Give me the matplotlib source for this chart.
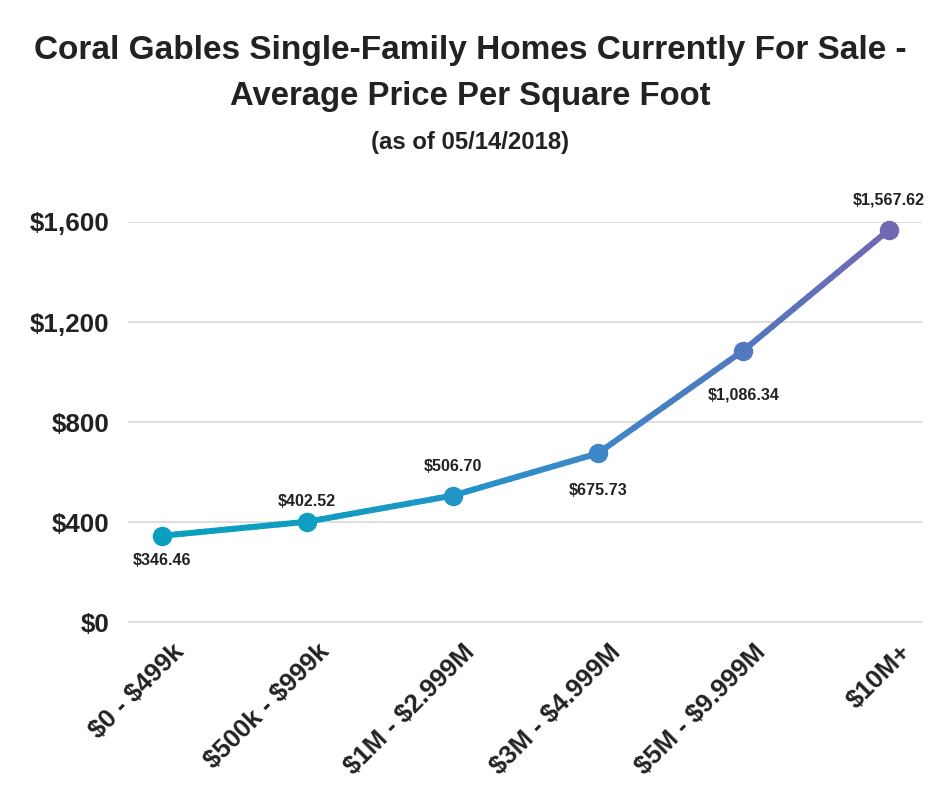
import matplotlib
matplotlib.use("Agg")
import matplotlib.pyplot as plt
import numpy as np
from matplotlib.collections import LineCollection
from matplotlib.colors import LinearSegmentedColormap
import matplotlib.transforms as mtrans

categories = ["$0 - $499k", "$500k - $999k", "$1M - $2.999M", "$3M - $4.999M", "$5M - $9.999M", "$10M+"]
values = [346.46, 402.52, 506.70, 675.73, 1086.34, 1567.62]
value_labels = ["$346.46", "$402.52", "$506.70", "$675.73", "$1,086.34", "$1,567.62"]
yticks = [0, 400, 800, 1200, 1600]
ytick_labels = ["$0", "$400", "$800", "$1,200", "$1,600"]

# label vertical offsets in pixels (positive = above)
label_dy = [-25, 20, 29, -37, -44, 30]

plt.rcParams['font.family'] = ['Liberation Sans', 'DejaVu Sans']
plt.rcParams['text.parse_math'] = False

fig = plt.figure(figsize=(9.4, 7.88), dpi=100)
ax = fig.add_axes([0.136, 0.2094, 0.845, 0.5089])

cmap = LinearSegmentedColormap.from_list(
    "g", [(0.0, "#0a9fbe"), (0.2, "#0f9dc0"), (0.4, "#1f95c8"), (0.6, "#3d86c7"), (0.8, "#5278c0"), (1.0, "#7068b3")])
x = np.arange(len(values))
n = len(values) - 1
pts = np.array([x, values]).T
segs = []
cols = []
sub = 20
for i in range(n):
    for k in range(sub):
        t0 = k / sub
        t1 = (k + 1) / sub
        p0 = pts[i] + (pts[i + 1] - pts[i]) * t0
        p1 = pts[i] + (pts[i + 1] - pts[i]) * t1
        segs.append([p0, p1])
        cols.append(cmap((i + (t0 + t1) / 2) / n))
lc = LineCollection(segs, colors=cols, linewidths=4.3, capstyle='round', clip_on=False, zorder=3)
ax.add_collection(lc)
for i, v in enumerate(values):
    ax.plot(x[i], v, 'o', ms=14, color=cmap(i / n), clip_on=False, zorder=4, mec='none')
    ax.annotate(value_labels[i], (x[i], v), xytext=(0, label_dy[i] * 0.72), textcoords='offset points',
                ha='center', va='center', fontsize=11.6, fontweight='bold', color='#222222')

ax.set_xlim(-0.233, 5.23)
ax.set_ylim(-2, 1600)
ax.set_yticks(yticks)
ax.set_yticklabels(ytick_labels, fontsize=18.7, fontweight='bold', color='#222222')
ax.set_xticks(x)
ax.set_xticklabels(categories, fontsize=18.5, fontweight='bold', color='#222222',
                   rotation=45, ha='right', rotation_mode='anchor')
ax.tick_params(axis='both', length=0)
ax.tick_params(axis='y', pad=13)
ax.tick_params(axis='x', pad=12)
for lab in ax.get_xticklabels():
    lab.set_transform(lab.get_transform() + mtrans.ScaledTranslation(10/100, 0, fig.dpi_scale_trans))
ax.grid(axis='y', color='#d4d4d4', lw=1.1)
ax.set_axisbelow(True)
for s in ax.spines.values():
    s.set_visible(False)

fig.text(0.5, 1 - 50/788, "Coral Gables Single-Family Homes Currently For Sale -", ha='center', va='center',
         fontsize=24, fontweight='bold', color='#222222')
fig.text(0.5, 1 - 97/788, "Average Price Per Square Foot", ha='center', va='center',
         fontsize=23.7, fontweight='bold', color='#222222')
fig.text(0.5, 1 - 143/788, "(as of 05/14/2018)", ha='center', va='center',
         fontsize=17.2, fontweight='bold', color='#222222')

fig.savefig("out.png", dpi=100, facecolor='white')
